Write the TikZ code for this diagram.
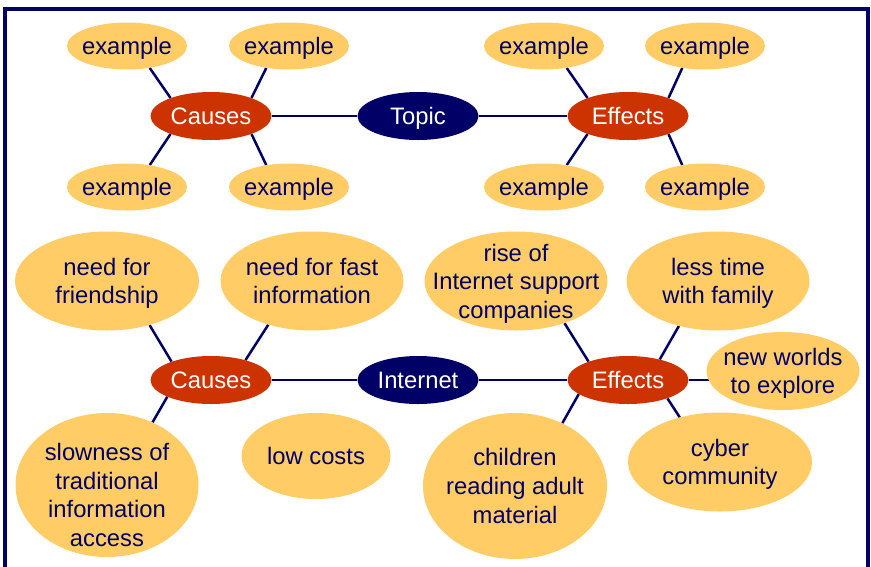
\documentclass[tikz,border=0pt]{standalone}
\usepackage{fontspec}
\setmainfont{Liberation Sans}
\usetikzlibrary{shapes.geometric,backgrounds}
\definecolor{navy}{HTML}{000066}
\definecolor{rust}{HTML}{CC3300}
\definecolor{gold}{HTML}{FFCC66}
\begin{document}
\begin{tikzpicture}[x=1pt,y=-1pt,
  txt/.style={font=\fontsize{23.8}{28.6}\selectfont, align=center, inner sep=0pt},
  bub/.style={ellipse, fill=gold, draw=none, inner sep=0pt, minimum width=#1},
  bub/.default=120,
  hub/.style={ellipse, fill=rust, draw=none, inner sep=0pt, minimum width=121, minimum height=48,
    label={[txt, text=white]center:#1}},
  topicnode/.style={ellipse, fill=navy, draw=none, inner sep=0pt, minimum width=121, minimum height=48,
    label={[txt, text=white, yshift=-2.5pt]center:#1}},
  lbl/.style={label={[txt, text=navy]center:{#1}}},
  lbld/.style={label={[txt, text=navy, yshift=-2.5pt]center:{#1}}},
  lbllow/.style={label={[txt, text=navy, yshift=-10pt]center:{#1}}},
  link/.style={draw=navy, line width=2.5pt},
  frame/.style={draw=navy, line width=4pt, line join=miter}
]
\useasboundingbox (0,0) rectangle (871,566);
\draw[frame] (4.7,580) -- (4.7,8.8) -- (868,8.8) -- (868,580);

% top map
\node[hub=Causes] (causesT) at (211,116) {};
\node[topicnode=Topic] (topic) at (418,116) {};
\node[hub=Effects] (effectsT) at (628,116) {};
\foreach \n/\x/\y in {ex1/127/46, ex2/289/46, ex3/127/187, ex4/289/187,
                       ex5/544/46, ex6/705/46, ex7/544/187, ex8/705/187}
  \node[bub=120, minimum height=47, lbld=example] (\n) at (\x,\y) {};

% bottom map
\node[hub=Causes] (causesB) at (211,380) {};
\node[hub=Internet, fill=navy] (internet) at (418,380) {};
\node[hub=Effects] (effectsB) at (628,380) {};
\node[bub=184, minimum height=99, lbld={need for\\friendship}] (friend) at (107,281) {};
\node[bub=183, minimum height=99, lbl={need for fast\\information}] (fast) at (312,281) {};
\node[bub=183, minimum height=144, lbllow={slowness of\\traditional\\information\\access}] (slow) at (107,485) {};
\node[bub=149, minimum height=86, lbl={low costs}] (low) at (316,456) {};
\node[bub=183, minimum height=99, lbld={rise of\\Internet support\\companies}] (rise) at (516,281) {};
\node[bub=183, minimum height=99, lbld={less time\\with family}] (less) at (718,281) {};
\node[bub=153, minimum height=78, lbld={new worlds\\to explore}] (worlds) at (783,371) {};
\node[bub=184, minimum height=99, lbld={cyber\\community}] (cyber) at (720,462) {};
\node[bub=184, minimum height=146, lbl={children\\reading adult\\material}] (children) at (515,486) {};

\begin{pgfonlayer}{background}
  \draw[link] (causesT) -- (topic) -- (effectsT);
  \draw[link] (ex1.-44) -- (causesT.156);
  \draw[link] (ex2.224) -- (causesT.24);
  \draw[link] (ex3.44) -- (causesT.204);
  \draw[link] (ex4.136) -- (causesT.-24);
  \draw[link] (ex5.-44) -- (effectsT.156);
  \draw[link] (ex6.224) -- (effectsT.24);
  \draw[link] (ex7.44) -- (effectsT.204);
  \draw[link] (ex8.136) -- (effectsT.-24);

  \draw[link] (causesB) -- (internet) -- (effectsB);
  \draw[link] (friend.-46) -- (causesB.155);
  \draw[link] (fast.225) -- (causesB.30);
  \draw[link] (slow.54) -- (causesB.201);
  \draw[link] (rise.-41) -- (effectsB.155);
  \draw[link] (less.229) -- (effectsB.33);
  \draw[link] (effectsB) -- (effectsB -| worlds);
  \draw[link] (cyber.132) -- (effectsB.-25);
  \draw[link] (children.53) -- (effectsB.196);
\end{pgfonlayer}
\end{tikzpicture}
\end{document}
